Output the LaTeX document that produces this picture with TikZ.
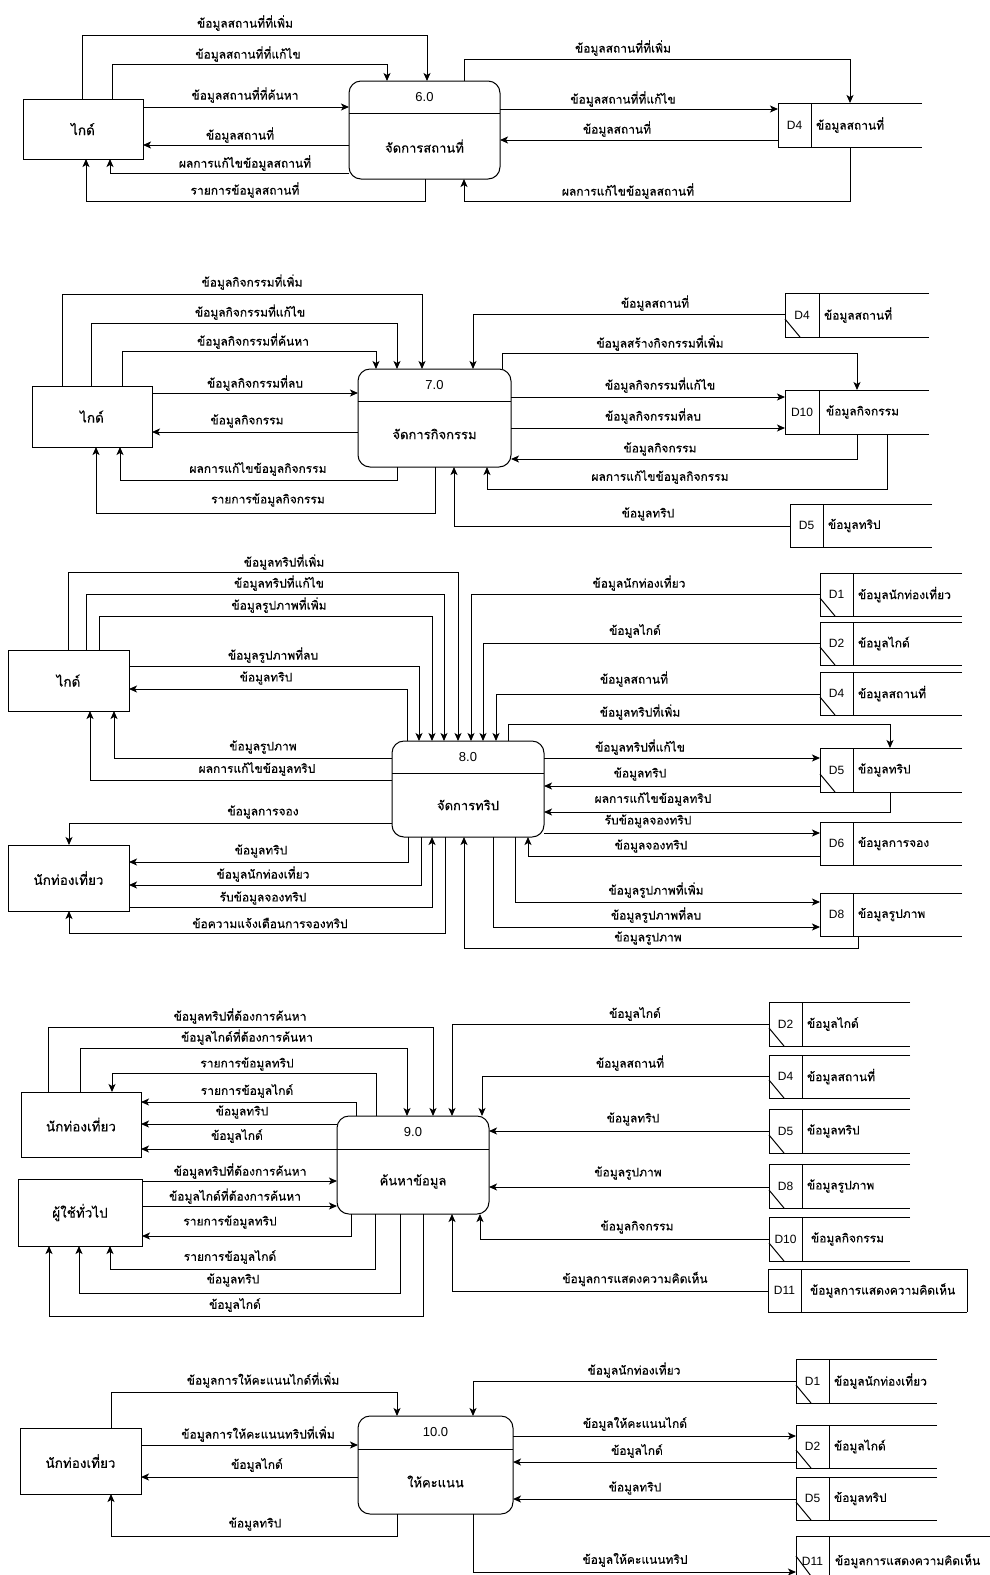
\documentclass[tikz,border=0pt]{standalone}
\usepackage{fontspec}
\setmainfont{Liberation Sans}
\newfontfamily\thai[Script=Thai, FakeBold=0.3]{Loma}
\usetikzlibrary{arrows.meta}

\tikzset{
  every node/.style={inner sep=0pt, outer sep=0pt},
  ent/.style={draw, line width=1pt, font=\thai\fontsize{13.5}{15}\selectfont},
  procshape/.style={draw, line width=1pt, rounded corners=12pt},
  divline/.style={line width=1pt},
  storeline/.style={line width=1pt},
  flow/.style={line width=1pt, -{Stealth[length=8pt, width=7pt, inset=2pt]}},
  lbl/.style={font=\thai\fontsize{12}{14}\selectfont},
  idtext/.style={font=\fontsize{12}{14}\selectfont},
  numtext/.style={font=\fontsize{13}{15}\selectfont},
  titletext/.style={font=\thai\fontsize{13}{15}\selectfont},
  storetext/.style={font=\thai\fontsize{12}{14}\selectfont},
}

% process: name, x1, y1, x2, y2, divider y, number, title
\newcommand\procbox[8]{%
  \node[procshape, minimum width={#4-#2}, minimum height={#5-#3}] (#1) at ({(#2+#4)/2},{(#3+#5)/2}) {};
  \draw[divline] (#1.west |- 0,#6) -- (#1.east |- 0,#6);
  \node[numtext] (#1-num) at ({(#2+#4)/2},{(#3+#6)/2}) {#7};
  \node[titletext] (#1-title) at ({(#2+#4)/2},{(#6+#5)/2}) {#8};
}
% data store: [extra], name, x1, y1, y2, divider x, right end, id, title
\newcommand\store[9][]{%
  \node[minimum width={#7-#3}, minimum height={#5-#4}] (#2) at ({(#3+#7)/2},{(#4+#5)/2}) {};
  \draw[storeline,#1] (#7,#4) -- (#3,#4) -- (#3,#5) -- (#7,#5) (#6,#4) -- (#6,#5);
  \node[idtext] (#2-id) at ({(#3+#6)/2},{(#4+#5)/2}) {#8};
  \node[storetext, anchor=west] (#2-title) at ({#6+5},{(#4+#5)/2}) {#9};
}
\newcommand\storetick[1]{\draw[storeline] ([yshift=18pt]#1.south west) -- ([xshift=15pt]#1.south west);}
\newcommand\lbl[4]{\node[lbl] (#1) at (#2,#3) {#4};}

\begin{document}
\begin{tikzpicture}[x=1pt, y=-1pt]
\useasboundingbox[fill=white] (0,0) rectangle (989,1575);

% ---------------- 6.0 manage places ----------------
\node[ent, minimum width=120pt, minimum height=60pt] (g1) at (83,129) {ไกด์};
\procbox{p6}{349}{81}{500}{179}{113}{6.0}{จัดการสถานที่}
\store{s1}{778}{103}{147}{811}{922}{D4}{ข้อมูลสถานที่}

\draw[flow] (g1.north -| 82,0) |- (427,35) -- (p6.north -| 427,0);
\lbl{a1}{245}{23}{ข้อมูลสถานที่ที่เพิ่ม}
\draw[flow] (g1.north -| 112,0) |- (387,64) -- (p6.north -| 387,0);
\lbl{a2}{248}{54}{ข้อมูลสถานที่ที่แก้ไข}
\draw[flow] (g1.east |- 0,107) -- (p6.west |- 0,107);
\lbl{a3}{245}{95}{ข้อมูลสถานที่ที่ค้นหา}
\draw[flow] (p6.west |- 0,145) -- (g1.east |- 0,145);
\lbl{a4}{240}{135}{ข้อมูลสถานที่}
\draw[flow] (p6.west |- 0,173) -| (g1.south -| 110,0);
\lbl{a5}{245}{163}{ผลการแก้ไขข้อมูลสถานที่}
\draw[flow] (p6.south -| 425,0) |- (86,201) -- (g1.south -| 86,0);
\lbl{a6}{245}{190}{รายการข้อมูลสถานที่}

\draw[flow] (p6.north -| 464,0) |- (850,59) -- (s1.north -| 850,0);
\lbl{a7}{623}{48}{ข้อมูลสถานที่ที่เพิ่ม}
\draw[flow] (p6.east |- 0,109) -- (s1.west |- 0,109);
\lbl{a8}{623}{99}{ข้อมูลสถานที่ที่แก้ไข}
\draw[flow] (s1.west |- 0,140) -- (p6.east |- 0,140);
\lbl{a9}{617}{129}{ข้อมูลสถานที่}
\draw[flow] (s1.south -| 850,0) |- (464,201) -- (p6.south -| 464,0);
\lbl{a10}{628}{191}{ผลการแก้ไขข้อมูลสถานที่}

% ---------------- 7.0 manage activities ----------------
\node[ent, minimum width=120pt, minimum height=61pt] (g2) at (92,416.5) {ไกด์};
\procbox{p7}{358}{369}{511}{467}{401}{7.0}{จัดการกิจกรรม}
\store{s2a}{785}{293}{337}{819}{929}{D4}{ข้อมูลสถานที่}
\storetick{s2a}
\store{s2b}{785}{390}{434}{819}{929}{D10}{\hspace{2pt}ข้อมูลกิจกรรม}
\store{s2c}{790}{504}{547}{823}{932}{D5}{ข้อมูลทริป}

\draw[flow] (g2.north -| 62,0) |- (422,294) -- (p7.north -| 422,0);
\lbl{b1}{252}{282}{ข้อมูลกิจกรรมที่เพิ่ม}
\draw[flow] (g2.north -| 91,0) |- (397,323) -- (p7.north -| 397,0);
\lbl{b2}{250}{312}{ข้อมูลกิจกรรมที่แก้ไข}
\draw[flow] (g2.north -| 122,0) |- (376,351) -- (p7.north -| 376,0);
\lbl{b3}{253}{341}{ข้อมูลกิจกรรมที่ค้นหา}
\draw[flow] (g2.east |- 0,393) -- (p7.west |- 0,393);
\lbl{b4}{255}{383}{ข้อมูลกิจกรรมที่ลบ}
\draw[flow] (p7.west |- 0,432) -- (g2.east |- 0,432);
\lbl{b5}{247}{421}{ข้อมูลกิจกรรม}
\draw[flow] (p7.south -| 397,0) |- (120,480) -- (g2.south -| 120,0);
\lbl{b6}{258}{469}{ผลการแก้ไขข้อมูลกิจกรรม}
\draw[flow] (p7.south -| 435,0) |- (96,513) -- (g2.south -| 96,0);
\lbl{b7}{268}{500}{รายการข้อมูลกิจกรรม}

\draw[flow] (s2a.west |- 0,314) -| (p7.north -| 473,0);
\lbl{b8}{655}{303}{ข้อมูลสถานที่}
\draw[flow] (p7.north -| 502,0) |- (857,353) -- (s2b.north -| 857,0);
\lbl{b9}{660}{343}{ข้อมูลสร้างกิจกรรมที่เพิ่ม}
\draw[flow] (p7.east |- 0,397) -- (s2b.west |- 0,397);
\lbl{b10}{660}{385}{ข้อมูลกิจกรรมที่แก้ไข}
\draw[flow] (p7.east |- 0,428) -- (s2b.west |- 0,428);
\lbl{b11}{653}{416}{ข้อมูลกิจกรรมที่ลบ}
\draw[flow] (s2b.south -| 857,0) |- (p7.east |- 0,459);
\lbl{b12}{660}{449}{ข้อมูลกิจกรรม}
\draw[flow] (s2b.south -| 887,0) |- (487,489) -- (p7.south -| 487,0);
\lbl{b13}{660}{477}{ผลการแก้ไขข้อมูลกิจกรรม}
\draw[flow] (s2c.west |- 0,526) -| (p7.south -| 454,0);
\lbl{b14}{648}{514}{ข้อมูลทริป}

% ---------------- 8.0 manage trips ----------------
\node[ent, minimum width=121pt, minimum height=61pt] (g3) at (68.5,680.5) {ไกด์};
\node[ent, minimum width=121pt, minimum height=66pt] (t3) at (68.5,878) {นักท่องเที่ยว};
\procbox{p8}{392}{741}{544}{837}{773}{8.0}{จัดการทริป}
\store{s3a}{820}{573}{616}{853}{962}{D1}{ข้อมูลนักท่องเที่ยว}
\storetick{s3a}
\store{s3b}{820}{622}{665}{853}{962}{D2}{ข้อมูลไกด์}
\storetick{s3b}
\store{s3c}{820}{672}{715}{853}{962}{D4}{ข้อมูลสถานที่}
\storetick{s3c}
\store{s3d}{820}{748}{792}{853}{962}{D5}{ข้อมูลทริป}
\storetick{s3d}
\store{s3e}{820}{822}{865}{853}{962}{D6}{ข้อมูลการจอง}
\store{s3f}{820}{893}{936}{853}{962}{D8}{ข้อมูลรูปภาพ}

\draw[flow] (g3.north -| 68,0) |- (458,572) -- (p8.north -| 458,0);
\lbl{c1}{284}{562}{ข้อมูลทริปที่เพิ่ม}
\draw[flow] (g3.north -| 86,0) |- (444,594) -- (p8.north -| 444,0);
\lbl{c2}{279}{583}{ข้อมูลทริปที่แก้ไข}
\draw[flow] (g3.north -| 99,0) |- (432,616) -- (p8.north -| 432,0);
\lbl{c3}{279}{605}{ข้อมูลรูปภาพที่เพิ่ม}
\draw[flow] (g3.east |- 0,666) -| (p8.north -| 419,0);
\lbl{c4}{273}{655}{ข้อมูลรูปภาพที่ลบ}
\draw[flow] (p8.north -| 407,0) |- (g3.east |- 0,689);
\lbl{c5}{266}{678}{ข้อมูลทริป}
\draw[flow] (p8.west |- 0,758) -| (g3.south -| 114,0);
\lbl{c6}{263}{747}{ข้อมูลรูปภาพ}
\draw[flow] (p8.west |- 0,780) -| (g3.south -| 90,0);
\lbl{c7}{257}{769}{ผลการแก้ไขข้อมูลทริป}
\draw[flow] (p8.west |- 0,823) -| (t3.north -| 69,0);
\lbl{c8}{263}{812}{ข้อมูลการจอง}
\draw[flow] (p8.south -| 408,0) |- (t3.east |- 0,862);
\lbl{c9}{261}{851}{ข้อมูลทริป}
\draw[flow] (p8.south -| 421,0) |- (t3.east |- 0,885);
\lbl{c10}{263}{874}{ข้อมูลนักท่องเที่ยว}
\draw[flow] (t3.east |- 0,907) -| (p8.south -| 432,0);
\lbl{c11}{263}{898}{รับข้อมูลจองทริป}
\draw[flow] (p8.south -| 445,0) |- (69,933) -- (t3.south -| 69,0);
\lbl{c12}{270}{923}{ข้อความแจ้งเตือนการจองทริป}

\draw[flow] (s3a.west |- 0,594) -| (p8.north -| 471,0);
\lbl{c13}{639}{583}{ข้อมูลนักท่องเที่ยว}
\draw[flow] (s3b.west |- 0,643) -| (p8.north -| 483,0);
\lbl{c14}{635}{631}{ข้อมูลไกด์}
\draw[flow] (s3c.west |- 0,694) -| (p8.north -| 496,0);
\lbl{c15}{634}{679}{ข้อมูลสถานที่}
\draw[flow] (p8.north -| 508,0) |- (890,724) -- (s3d.north -| 890,0);
\lbl{c16}{640}{712}{ข้อมูลทริปที่เพิ่ม}
\draw[flow] (p8.east |- 0,758) -- (s3d.west |- 0,758);
\lbl{c17}{640}{747}{ข้อมูลทริปที่แก้ไข}
\draw[flow] (s3d.west |- 0,786) -- (p8.east |- 0,786);
\lbl{c18}{640}{774}{ข้อมูลทริป}
\draw[flow] (s3d.south -| 890,0) |- (p8.east |- 0,812);
\lbl{c19}{653}{799}{ผลการแก้ไขข้อมูลทริป}
\draw[flow] (p8.east |- 0,833) -- (s3e.west |- 0,833);
\lbl{c20}{648}{821}{รับข้อมูลจองทริป}
\draw[flow] (s3e.west |- 0,856) -| (p8.south -| 528,0);
\lbl{c21}{651}{846}{ข้อมูลจองทริป}
\draw[flow] (p8.south -| 515,0) |- (s3f.west |- 0,902);
\lbl{c22}{656}{890}{ข้อมูลรูปภาพที่เพิ่ม}
\draw[flow] (p8.south -| 493,0) |- (s3f.west |- 0,927);
\lbl{c23}{656}{915}{ข้อมูลรูปภาพที่ลบ}
\draw[flow] (s3f.south -| 858,0) |- (464,948) -- (p8.south -| 464,0);
\lbl{c24}{648}{938}{ข้อมูลรูปภาพ}

% ---------------- 9.0 search ----------------
\node[ent, minimum width=120pt, minimum height=65pt] (t4) at (81,1124.5) {นักท่องเที่ยว};
\node[ent, minimum width=124pt, minimum height=67pt] (u4) at (80,1212.5) {ผู้ใช้ทั่วไป};
\procbox{p9}{337}{1116}{489}{1214}{1149}{9.0}{ค้นหาข้อมูล}
\store{s4a}{769}{1002}{1046}{802}{910}{D2}{ข้อมูลไกด์}
\storetick{s4a}
\store{s4b}{769}{1055}{1098}{802}{910}{D4}{ข้อมูลสถานที่}
\storetick{s4b}
\store{s4c}{769}{1109}{1153}{802}{910}{D5}{ข้อมูลทริป}
\storetick{s4c}
\store{s4d}{769}{1164}{1208}{802}{910}{D8}{ข้อมูลรูปภาพ}
\storetick{s4d}
\store{s4e}{769}{1217}{1261}{802}{910}{D10}{\hspace{4pt}ข้อมูลกิจกรรม}
\storetick{s4e}
\store{s4f}{768}{1269}{1312}{801}{967}{D11}{\hspace{4pt}ข้อมูลการแสดงความคิดเห็น}
\draw[storeline] (s4f.north east) -- (s4f.south east);

\draw[flow] (t4.north -| 48,0) |- (433,1027) -- (p9.north -| 433,0);
\lbl{d1}{240}{1016}{ข้อมูลทริปที่ต้องการค้นหา}
\draw[flow] (t4.north -| 80,0) |- (407,1048) -- (p9.north -| 407,0);
\lbl{d2}{247}{1037}{ข้อมูลไกด์ที่ต้องการค้นหา}
\draw[flow] (p9.north -| 376,0) |- (112,1073) -- (t4.north -| 112,0);
\lbl{d3}{247}{1064}{รายการข้อมูลทริป}
\draw[flow] (p9.north -| 356,0) |- (t4.east |- 0,1102);
\lbl{d4}{247}{1091}{รายการข้อมูลไกด์}
\draw[flow] (p9.west |- 0,1124) -- (t4.east |- 0,1124);
\lbl{d5}{242}{1112}{ข้อมูลทริป}
\draw[flow] (p9.west |- 0,1149) -- (t4.east |- 0,1149);
\lbl{d6}{237}{1136}{ข้อมูลไกด์}
\draw[flow] (u4.east |- 0,1181) -- (p9.west |- 0,1181);
\lbl{d7}{240}{1171}{ข้อมูลทริปที่ต้องการค้นหา}
\draw[flow] (u4.east |- 0,1206) -- (p9.west |- 0,1206);
\lbl{d8}{235}{1196}{ข้อมูลไกด์ที่ต้องการค้นหา}
\draw[flow] (p9.south -| 351,0) |- (u4.east |- 0,1236);
\lbl{d9}{230}{1222}{รายการข้อมูลทริป}
\draw[flow] (p9.south -| 375,0) |- (110,1269) -- (u4.south -| 110,0);
\lbl{d10}{230}{1257}{รายการข้อมูลไกด์}
\draw[flow] (p9.south -| 400,0) |- (79,1293) -- (u4.south -| 79,0);
\lbl{d11}{233}{1280}{ข้อมูลทริป}
\draw[flow] (p9.south -| 423,0) |- (49,1316) -- (u4.south -| 49,0);
\lbl{d12}{235}{1305}{ข้อมูลไกด์}

\draw[flow] (s4a.west |- 0,1024) -| (p9.north -| 452,0);
\lbl{d13}{635}{1014}{ข้อมูลไกด์}
\draw[flow] (s4b.west |- 0,1076) -| (p9.north -| 482,0);
\lbl{d14}{630}{1063}{ข้อมูลสถานที่}
\draw[flow] (s4c.west |- 0,1131) -- (p9.east |- 0,1131);
\lbl{d15}{633}{1119}{ข้อมูลทริป}
\draw[flow] (s4d.west |- 0,1187) -- (p9.east |- 0,1187);
\lbl{d16}{628}{1173}{ข้อมูลรูปภาพ}
\draw[flow] (s4e.west |- 0,1239) -| (p9.south -| 480,0);
\lbl{d17}{637}{1227}{ข้อมูลกิจกรรม}
\draw[flow] (s4f.west |- 0,1291) -| (p9.south -| 452,0);
\lbl{d18}{635}{1279}{ข้อมูลการแสดงความคิดเห็น}

% ---------------- 10.0 rating ----------------
\node[ent, minimum width=121pt, minimum height=66pt] (t5) at (80.5,1461) {นักท่องเที่ยว};
\procbox{p10}{358}{1416}{513}{1514}{1449}{10.0}{ให้คะแนน}
\store{s5a}{796}{1359}{1403}{829}{937}{D1}{ข้อมูลนักท่องเที่ยว}
\storetick{s5a}
\store{s5b}{796}{1425}{1468}{829}{937}{D2}{ข้อมูลไกด์}
\storetick{s5b}
\store{s5c}{796}{1477}{1520}{829}{937}{D5}{ข้อมูลทริป}
\storetick{s5c}
\store{s5d}{796}{1536}{1586}{829}{995}{D11}{\hspace{1pt}ข้อมูลการแสดงความคิดเห็น}
\draw[storeline] ([yshift=30pt]s5d.south west) -- ([xshift=15pt,yshift=10pt]s5d.south west);

\draw[flow] (t5.north -| 111,0) |- (397,1392) -- (p10.north -| 397,0);
\lbl{e1}{263}{1380}{ข้อมูลการให้คะแนนไกด์ที่เพิ่ม}
\draw[flow] (t5.east |- 0,1445) -- (p10.west |- 0,1445);
\lbl{e2}{258}{1434}{ข้อมูลการให้คะแนนทริปที่เพิ่ม}
\draw[flow] (p10.west |- 0,1477) -- (t5.east |- 0,1477);
\lbl{e3}{257}{1465}{ข้อมูลไกด์}
\draw[flow] (p10.south -| 397,0) |- (111,1536) -- (t5.south -| 111,0);
\lbl{e4}{255}{1524}{ข้อมูลทริป}

\draw[flow] (s5a.west |- 0,1381) -| (p10.north -| 473,0);
\lbl{e5}{634}{1370}{ข้อมูลนักท่องเที่ยว}
\draw[flow] (p10.east |- 0,1436) -- (s5b.west |- 0,1436);
\lbl{e6}{635}{1424}{ข้อมูลให้คะแนนไกด์}
\draw[flow] (s5b.west |- 0,1462) -- (p10.east |- 0,1462);
\lbl{e7}{637}{1451}{ข้อมูลไกด์}
\draw[flow] (s5c.west |- 0,1499) -- (p10.east |- 0,1499);
\lbl{e8}{635}{1488}{ข้อมูลทริป}
\draw[flow] (p10.south -| 473,0) |- (s5d.west |- 0,1572);
\lbl{e9}{635}{1560}{ข้อมูลให้คะแนนทริป}
\end{tikzpicture}
\end{document}
